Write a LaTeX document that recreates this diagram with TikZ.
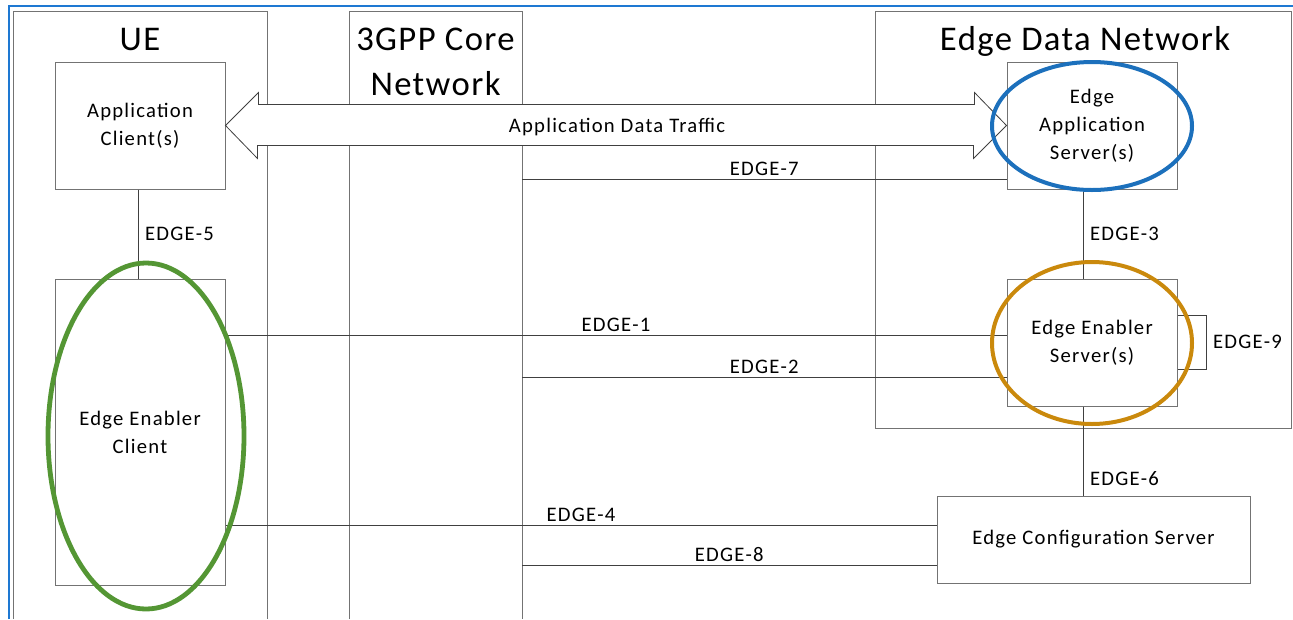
\documentclass[tikz,border=0pt]{standalone}
\usepackage{fontspec}
\setmainfont{Carlito}[LetterSpace=6]
\newfontfamily\titlefont{Carlito}[LetterSpace=4]
\definecolor{framecol}{RGB}{30,120,210}
\definecolor{eecgreen}{RGB}{84,150,52}
\definecolor{eesorange}{RGB}{202,137,12}
\definecolor{easblue}{RGB}{28,112,188}
\tikzset{
  group/.style={draw=black!55, line width=0.75pt},
  box/.style={draw=black!55, line width=0.75pt, fill=white, align=center,
    minimum width=127.5pt, inner sep=2pt},
  link/.style={draw=black!75, line width=0.75pt},
  lbl/.style={inner sep=2pt},
  title/.style={font=\titlefont\fontsize{26}{33.75}\selectfont, align=center},
  ring/.style={line width=3pt}
}
\begin{document}
\begin{tikzpicture}[x=0.75pt,y=-0.75pt,font=\fontsize{15.5}{21}\selectfont]
\useasboundingbox (0,0) rectangle (1293,619);
\draw[framecol, line width=1.5pt] (9,619) -- (9,6) -- (1293,6);
% domains
\draw[group] (13,619) -- (13,11) -- (267,11) -- (267,619);
\draw[group] (349,619) -- (349,11) -- (522,11) -- (522,619);
\draw[group] (875,11) rectangle (1291,428);
\coordinate (core-r) at (522,0);
\node[title, anchor=base] (ue) at (140,50) {UE};
\node[title, anchor=base] (core1) at (435.5,50) {3GPP Core};
\node[title, anchor=base] (core2) at (435.5,95) {Network};
\node[title, anchor=base] (edn) at (1085,50) {Edge Data Network};
% functional entities
\node[box, minimum height=95.25pt] (ac) at (140,125.5) {Application\\Client(s)};
\node[box, minimum height=229.5pt] (eec) at (140,432) {Edge Enabler\\Client};
\node[box, minimum height=95.25pt] (eas) at (1092,125.5) {Edge\\Application\\Server(s)};
\node[box, minimum height=95.25pt] (ees) at (1092,342.5) {Edge Enabler\\Server(s)};
\node[box, minimum width=234.75pt, minimum height=65.25pt] (ecs) at (1093.5,539.5) {Edge Configuration Server};
% application data traffic
\draw[draw=black!75, fill=white, line width=0.6pt] (ac.east) -- ++(33,-33) -- ++(0,12) -- ++(716,0) -- ++(0,-12)
  -- (eas.west) -- ++(-33,33) -- ++(0,-13) -- ++(-716,0) -- ++(0,13) -- cycle;
\node (adt) at (617,127) {Application Data Traffic};
% reference points
\draw[link] (ac.south -| 138,0) -- (eec.north -| 138,0) node[midway,lbl,right=3pt] {EDGE-5};
\draw[link] (eas.south -| 1083,0) -- (ees.north -| 1083,0) node[midway,lbl,right=3pt] {EDGE-3};
\draw[link] (ees.south -| 1083,0) -- (ecs.north -| 1083,0) node[pos=0.81,lbl,right=3pt] {EDGE-6};
\draw[link] (core-r |- 0,179) -- (eas.west |- 0,179) node[midway,lbl,above] {EDGE-7};
\draw[link] (eec.east |- 0,335) -- (ees.west |- 0,335) node[midway,lbl,above] {EDGE-1};
\draw[link] (core-r |- 0,377) -- (ees.west |- 0,377) node[midway,lbl,above] {EDGE-2};
\draw[link] (ees.east |- 0,315) -- (1206,315) -- (1206,369) node[midway,lbl,right=3pt] {EDGE-9} -- (ees.east |- 0,369);
\draw[link] (eec.east |- 0,525) -- (ecs.west |- 0,525) node[midway,lbl,above] {EDGE-4};
\draw[link] (core-r |- 0,565) -- (ecs.west |- 0,565) node[midway,lbl,above] {EDGE-8};
% highlights
\draw[ring, eecgreen, line width=3.6pt] (146,436) ellipse [x radius=98, y radius=173];
\draw[ring, eesorange] (1092,343) ellipse [x radius=100, y radius=81];
\draw[ring, easblue] (1092,126) ellipse [x radius=100, y radius=64];
\end{tikzpicture}
\end{document}
